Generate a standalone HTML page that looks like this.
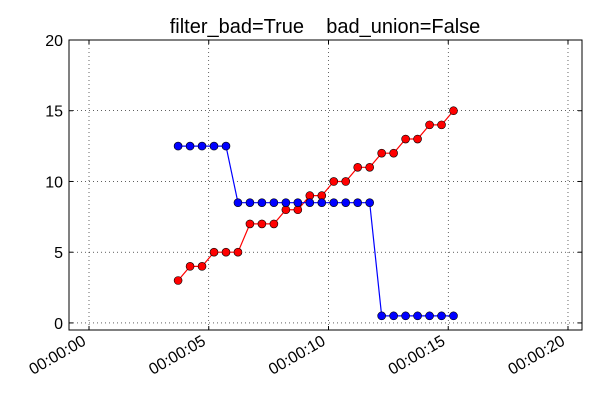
<!DOCTYPE html>
<html><head><meta charset="utf-8"><style>
body{margin:0;background:#fff;}
svg{display:block;font-family:"Liberation Sans","DejaVu Sans",sans-serif;}
</style></head><body>
<svg id="chart" width="600" height="400">
<rect width="600" height="400" fill="#fff"/>
<text x="325" y="33" font-size="20" text-anchor="middle" style="white-space:pre">filter_bad=True    bad_union=False</text>
<g id="grid"></g><g id="axes"></g><g id="series"></g>
<rect x="69" y="40" width="513" height="290" fill="none" stroke="#000" stroke-width="1"/>
</svg>
<script>
const times = [3.72,4.22,4.72,5.22,5.72,6.22,6.72,7.22,7.72,8.22,8.72,9.22,9.72,10.22,10.72,11.22,11.72,12.22,12.72,13.22,13.72,14.22,14.72,15.22];
const redValues = [3,4,4,5,5,5,7,7,7,8,8,9,9,10,10,11,11,12,12,13,13,14,14,15];
const blueValues = [12.5,12.5,12.5,12.5,12.5,8.5,8.5,8.5,8.5,8.5,8.5,8.5,8.5,8.5,8.5,8.5,8.5,0.5,0.5,0.5,0.5,0.5,0.5,0.5];
const xTicks = [0,5,10,15,20];
const xTickLabels = ["00:00:00","00:00:05","00:00:10","00:00:15","00:00:20"];
const yTicks = [0,5,10,15,20];

const NS="http://www.w3.org/2000/svg";
const L=69,R=582,T=40,B=330;
const xMin=-0.835,xMax=20.585,yMin=-0.5,yMax=20;
const xs=v=>L+(v-xMin)/(xMax-xMin)*(R-L);
const ys=v=>B-(v-yMin)/(yMax-yMin)*(B-T);
function mk(tag,attrs,parent){const e=document.createElementNS(NS,tag);for(const k in attrs)e.setAttribute(k,attrs[k]);parent.appendChild(e);return e;}
const grid=document.getElementById('grid'),axes=document.getElementById('axes'),series=document.getElementById('series');
xTicks.forEach((t,i)=>{
  const x=xs(t);
  const g=mk('line',{x1:x,x2:x,y1:T,y2:B,stroke:'#000','stroke-width':0.6,'stroke-dasharray':'1,3'},grid);
  
  
  mk('line',{x1:x,x2:x,y1:B,y2:B-4,stroke:'#000'},axes);
  mk('line',{x1:x,x2:x,y1:T,y2:T+4,stroke:'#000'},axes);
  const ax=x-2, ay=B+14;
  const tx=mk('text',{x:ax,y:ay,'font-size':16,'text-anchor':'end',transform:`rotate(-30 ${ax} ${ay})`},axes);
  tx.textContent=xTickLabels[i];
  
  
});
yTicks.forEach(t=>{
  const y=ys(t);
  const g=mk('line',{x1:L,x2:R,y1:y,y2:y,stroke:'#000','stroke-width':0.6,'stroke-dasharray':'1,3'},grid);
  
  
  mk('line',{x1:L,x2:L+4,y1:y,y2:y,stroke:'#000'},axes);
  mk('line',{x1:R,x2:R-4,y1:y,y2:y,stroke:'#000'},axes);
  const tx=mk('text',{x:L-6,y:y+6,'font-size':16,'text-anchor':'end'},axes);
  tx.textContent=t;
  
  
});
function drawSeries(vals,color,name){
  const pts=times.map((t,i)=>xs(t)+','+ys(vals[i])).join(' ');
  const pl=mk('polyline',{points:pts,fill:'none',stroke:color,'stroke-width':1.2},series);
  
  
  times.forEach((t,i)=>{
    const c=mk('circle',{cx:xs(t),cy:ys(vals[i]),r:4,fill:color,stroke:'#000','stroke-width':0.6},series);
    
    
  });
}
drawSeries(redValues,'#ff0000','red-series');
drawSeries(blueValues,'#0000ff','blue-series');
</script>
</body></html>
